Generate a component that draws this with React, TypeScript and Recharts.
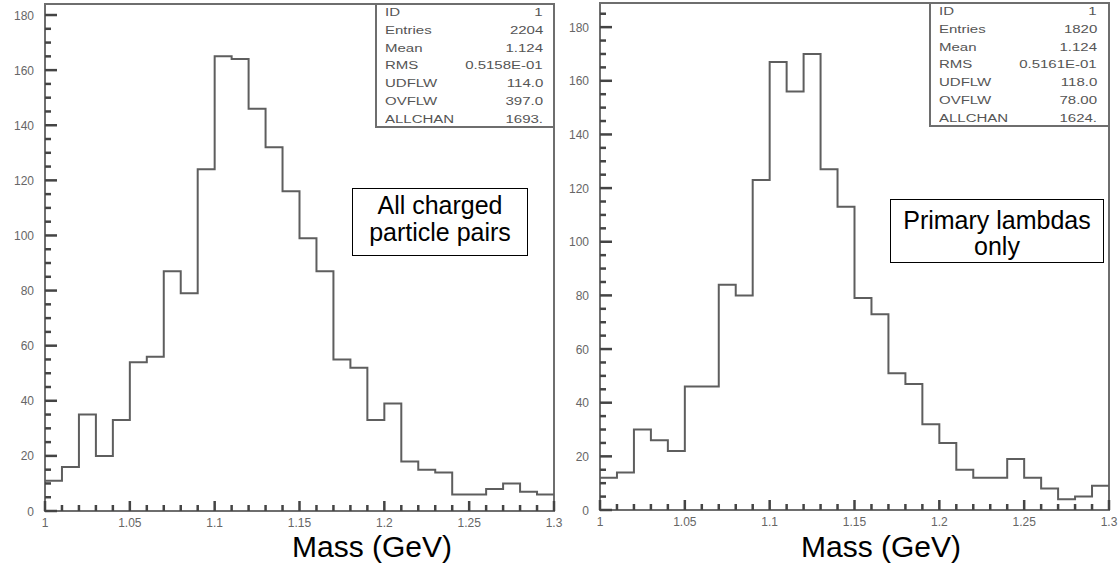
import React from "react";
import { LineChart, Line, XAxis, YAxis, ReferenceArea, ReferenceLine } from "recharts";

// bin edges of the mass histograms (GeV), 30 bins of 0.01
const binEdges = [
  1.0, 1.01, 1.02, 1.03, 1.04, 1.05, 1.06, 1.07, 1.08, 1.09,
  1.1, 1.11, 1.12, 1.13, 1.14, 1.15, 1.16, 1.17, 1.18, 1.19,
  1.2, 1.21, 1.22, 1.23, 1.24, 1.25, 1.26, 1.27, 1.28, 1.29, 1.3,
];

const allChargedCounts = [
  11, 16, 35, 20, 33, 54, 56, 87, 79, 124,
  165, 164, 146, 132, 116, 99, 87, 55, 52, 33,
  39, 18, 15, 14, 6, 6, 8, 10, 7, 6,
];

const primaryLambdaCounts = [
  12, 14, 30, 26, 22, 46, 46, 84, 80, 123,
  167, 156, 170, 127, 113, 79, 73, 51, 47, 32,
  25, 15, 12, 12, 19, 12, 8, 4, 5, 9,
];

const xMajorTicks = [1, 1.05, 1.1, 1.15, 1.2, 1.25, 1.3];
const xTickLabels = ["1", "1.05", "1.1", "1.15", "1.2", "1.25", "1.3"];
const yMajorTicks = [0, 20, 40, 60, 80, 100, 120, 140, 160, 180];

const statNames = ["ID", "Entries", "Mean", "RMS", "UDFLW", "OVFLW", "ALLCHAN"];
const allChargedStats = ["1", "2204", "1.124", "0.5158E-01", "114.0", "397.0", "1693."];
const primaryLambdaStats = ["1", "1820", "1.124", "0.5161E-01", "118.0", "78.00", "1624."];

const GRAY = "#6e6e6e";
const TICK = "#444";
const SANS = "'Liberation Sans', Arial, Helvetica, sans-serif";

const renderXTick = (props: any) => {
  const x = Number(props.x);
  const y = Number(props.y);
  const idx = xMajorTicks.findIndex((t) => Math.abs(t - props.payload.value) < 1e-6);
  const len = idx >= 0 ? 10 : 6;
  return (
    <g>
      <rect x={x - 1.25} y={y - len} width={2.5} height={len} fill={TICK} />
      {idx >= 0 && (
        <text x={x} y={y + 16} textAnchor="middle" fontSize={12} fill="#666" stroke="none" fontFamily={SANS}>
          {xTickLabels[idx]}
        </text>
      )}
    </g>
  );
};

const renderYTick = (props: any) => {
  const x = Number(props.x);
  const y = Number(props.y);
  const major = yMajorTicks.includes(props.payload.value);
  return major ? (
    <text x={x - 11} y={y + 4.5} textAnchor="end" fontSize={12} fill="#666" stroke="none" fontFamily={SANS}>
      {props.payload.value}
    </text>
  ) : (
    <g />
  );
};

function StatsBox({ left, top, values }: { left: number; top: number; values: string[] }) {
  return (
    <div
      style={{
        position: "absolute",
        left,
        top,
        width: 180,
        height: 124,
        boxSizing: "border-box",
        borderLeft: `2px solid ${GRAY}`,
        borderBottom: `2px solid ${GRAY}`,
        fontFamily: SANS,
        fontSize: 10,
        color: "#555",
      }}
    >
      {statNames.map((n, i) => (
        <div
          key={n}
          style={{
            position: "absolute",
            left: 8,
            right: 12,
            top: i * 17.8,
            height: 17.8,
            lineHeight: "17.8px",
            display: "flex",
            justifyContent: "space-between",
          }}
        >
          <span style={{ display: "inline-block", transform: "scaleX(1.5)", transformOrigin: "left" }}>{n}</span>
          <span style={{ display: "inline-block", transform: "scaleX(1.5)", transformOrigin: "right" }}>{values[i]}</span>
        </div>
      ))}
    </div>
  );
}

function Panel(props: {
  left: number;
  width: number;
  counts: number[];
  yMax: number;
  yAxisWidth: number;
  top: number;
  right: number;
  xAxisHeight: number;
}) {
  const { left, width, counts, yMax, yAxisWidth, top, right, xAxisHeight } = props;
  const data = binEdges.map((x, i) => ({ x, n: counts[Math.min(i, counts.length - 1)] }));
  const yTicks = Array.from({ length: 40 }, (_, i) => i * 5).filter((v) => v <= yMax);
  // data units per pixel along x, so the inward y ticks get a pixel length
  const plotW = width - yAxisWidth - right;
  const perPxX = 0.3 / plotW;
  return (
    <div style={{ position: "absolute", left, top: 0 }}>
      <LineChart width={width} height={573} data={data} margin={{ top, right, bottom: 0, left: 0 }}>
        <XAxis
          dataKey="x"
          type="number"
          domain={[1, 1.3]}
          ticks={binEdges}
          interval={0}
          height={xAxisHeight}
          axisLine={false}
          tickLine={false}
          tickSize={0}
          tickMargin={0}
          tick={renderXTick}
        />
        <YAxis
          type="number"
          domain={[0, yMax]}
          ticks={yTicks}
          interval={0}
          width={yAxisWidth}
          axisLine={false}
          tickLine={false}
          tickSize={0}
          tickMargin={0}
          tick={renderYTick}
        />
        <ReferenceArea x1={1} x2={1.3} y1={0} y2={yMax} fill="none" fillOpacity={0} stroke={GRAY} strokeWidth={2} />
        {yTicks.map((v) => (
          <ReferenceLine
            key={`yt${v}`}
            segment={[
              { x: 1, y: v },
              { x: 1 + (yMajorTicks.includes(v) ? 12 : 6) * perPxX, y: v },
            ]}
            stroke={TICK}
            strokeWidth={2.5}
            ifOverflow="extendDomain"
          />
        ))}
        <Line
          type="stepAfter"
          dataKey="n"
          stroke="#5e5e5e"
          strokeWidth={2}
          dot={false}
          isAnimationActive={false}
        />
      </LineChart>
    </div>
  );
}

export default function App() {
  return (
    <div
      style={{
        position: "absolute",
        left: 0,
        top: 0,
        width: 1118,
        height: 573,
        background: "#fff",
        overflow: "hidden",
        fontFamily: SANS,
      }}
    >
      <Panel left={0} width={575} counts={allChargedCounts} yMax={184} yAxisWidth={45} top={4} right={21} xAxisHeight={62} />
      <Panel left={557} width={561} counts={primaryLambdaCounts} yMax={189} yAxisWidth={43} top={3} right={9} xAxisHeight={63} />

      <StatsBox left={375} top={4} values={allChargedStats} />
      <StatsBox left={929} top={3} values={primaryLambdaStats} />

      <div
        style={{
          position: "absolute",
          left: 352,
          top: 188,
          width: 176,
          height: 68,
          boxSizing: "border-box",
          border: "1px solid #000",
          paddingTop: 3,
          textAlign: "center",
          fontSize: 25,
          lineHeight: "27px",
          color: "#000",
        }}
      >
        <div>All charged</div>
        <div>particle pairs</div>
      </div>

      <div
        style={{
          position: "absolute",
          left: 890,
          top: 199,
          width: 214,
          height: 64,
          boxSizing: "border-box",
          border: "1px solid #000",
          paddingTop: 7,
          textAlign: "center",
          fontSize: 25,
          lineHeight: "26px",
          color: "#000",
        }}
      >
        <div>Primary lambdas</div>
        <div>only</div>
      </div>

      <div style={{ position: "absolute", left: 272, width: 200, top: 532, textAlign: "center", fontSize: 30, lineHeight: "30px" }}>
        Mass (GeV)
      </div>
      <div style={{ position: "absolute", left: 781, width: 200, top: 532, textAlign: "center", fontSize: 30, lineHeight: "30px" }}>
        Mass (GeV)
      </div>
    </div>
  );
}
